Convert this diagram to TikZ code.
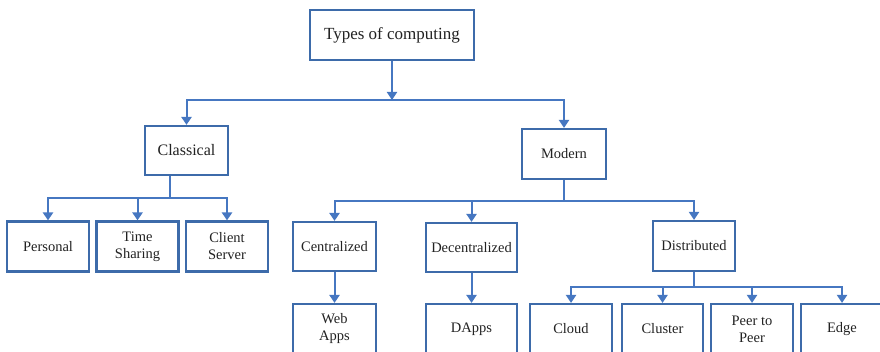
\documentclass[tikz,border=0pt]{standalone}
\usepackage{fontspec}
\setmainfont{Liberation Serif}
\usetikzlibrary{arrows.meta}
\definecolor{boxblue}{HTML}{3D6BAA}
\definecolor{linkblue}{HTML}{4677C1}
\definecolor{ink}{HTML}{222222}
\begin{document}
\begin{tikzpicture}[x=1pt,y=-1pt,
  box/.style={draw=boxblue,line width=2.1pt,fill=white,inner sep=0pt,
    align=center,text=ink,font=\fontsize{14.5}{17}\selectfont},
  link/.style={draw=linkblue,line width=2pt},
  arr/.style={link,-{Triangle[width=10pt,length=8pt]}}]
\useasboundingbox (0,0) rectangle (880,352);
\clip (0,0) rectangle (880,352);
% tree nodes
\node[box,minimum width=164pt,minimum height=50pt,font=\fontsize{17}{20}\selectfont] (root) at (392,35) {Types of computing};
\node[box,minimum width=83pt,minimum height=49pt,font=\fontsize{16}{19}\selectfont] (cls) at (186.5,150.5) {Classical};
\node[box,minimum width=84pt,minimum height=50pt] (mod) at (564,154) {Modern};
\node[box,minimum width=82pt,minimum height=50pt] (per) at (48,246.5) {Personal};
\node[box,minimum width=82pt,minimum height=50pt] (tsh) at (137.5,246.5) {Time\\Sharing};
\node[box,minimum width=82pt,minimum height=50pt] (csv) at (227,246.5) {Client\\Server};
\node[box,minimum width=83pt,minimum height=49pt] (cen) at (334.5,246.5) {Centralized};
\node[box,minimum width=91pt,minimum height=49pt] (dec) at (471.5,247.5) {Decentralized};
\node[box,minimum width=82pt,minimum height=50pt] (dis) at (694,246) {Distributed};
\node[box,minimum width=83pt,minimum height=50pt] (web) at (334.5,329) {Web\\Apps};
\node[box,minimum width=91pt,minimum height=50pt] (dap) at (471.5,329) {DApps};
\node[box,minimum width=82pt,minimum height=50pt] (clo) at (571,329) {Cloud};
\node[box,minimum width=81pt,minimum height=50pt] (clu) at (662.5,329) {Cluster};
\node[box,minimum width=82pt,minimum height=50pt] (p2p) at (752,329) {Peer to\\Peer};
\node[box,minimum width=82pt,minimum height=50pt] (edg) at (842,329) {Edge};
% bus junctions
\coordinate (b1) at (392,100);
\coordinate (b2) at (170,198);
\coordinate (b3) at (564,201);
\coordinate (b4) at (694,287);
% connectors
\draw[arr] (root.south) -- (b1);
\draw[arr] (b1) -| (cls.north);
\draw[arr] (b1) -| (mod.north);
\draw[link] (cls.south -| b2) -- (b2);
\draw[arr] (b2) -| (per.north);
\draw[arr] (b2) -| (tsh.north);
\draw[arr] (b2) -| (csv.north);
\draw[link] (mod.south) -- (b3);
\draw[arr] (b3) -| (cen.north);
\draw[arr] (b3) -| (dec.north);
\draw[arr] (b3) -| (dis.north);
\draw[arr] (cen.south) -- (web.north);
\draw[arr] (dec.south) -- (dap.north);
\draw[link] (dis.south) -- (b4);
\draw[arr] (b4) -| (clo.north);
\draw[arr] (b4) -| (clu.north);
\draw[arr] (b4) -| (p2p.north);
\draw[arr] (b4) -| (edg.north);
\end{tikzpicture}
\end{document}
